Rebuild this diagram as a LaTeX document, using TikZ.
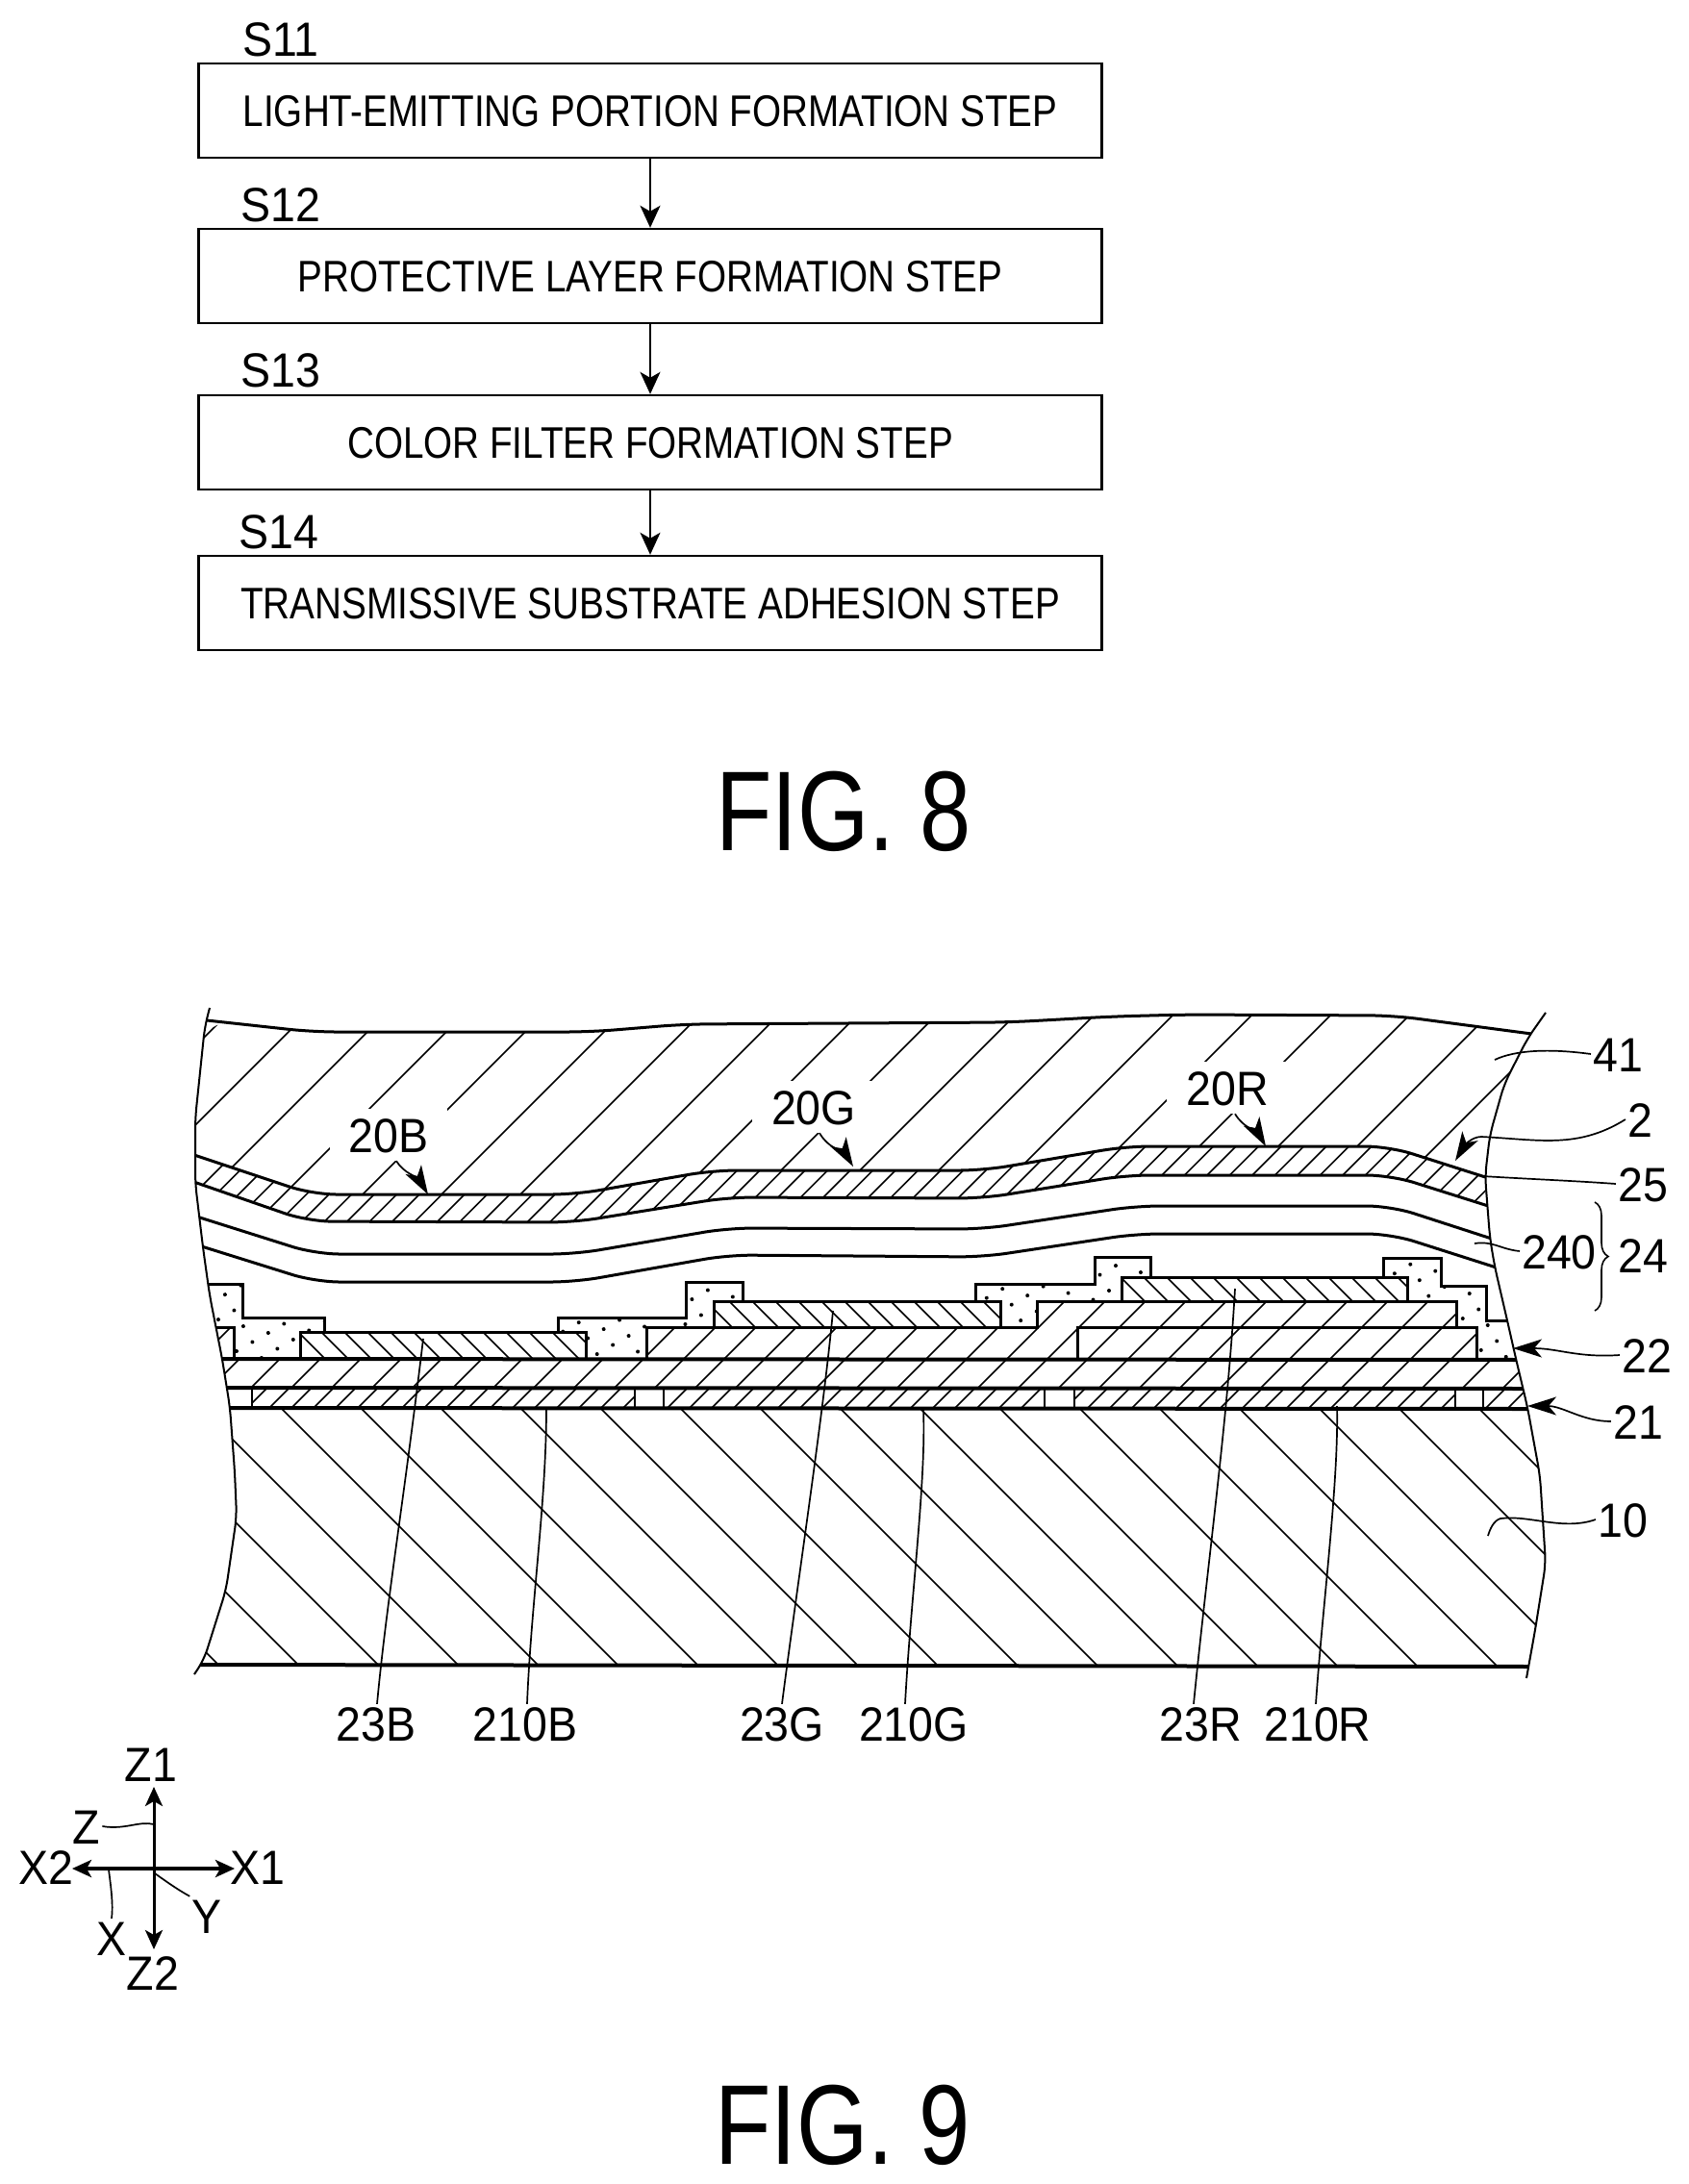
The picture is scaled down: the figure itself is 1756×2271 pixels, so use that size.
\documentclass[tikz,border=0pt]{standalone}
\usepackage{fontspec}
\setmainfont[FakeStretch=0.93]{Liberation Sans}
\newfontfamily\boxfont[FakeStretch=0.84]{Liberation Sans}
\newfontfamily\figfont[FakeStretch=0.81]{Liberation Sans}
\usetikzlibrary{arrows.meta,patterns.meta,decorations.pathreplacing}

\begin{document}
\begin{tikzpicture}[x=1pt,y=-1pt]
    \newcommand{\boxX}[0]{676}
    % layer outlines, left to right
    \newcommand{\lineTop}[0]{(215,1061) -- (325,1073) -- (614,1073) -- (711,1065) -- (1048,1063) -- (1156,1057) -- (1233,1055) -- (1449,1056) -- (1600,1076)}
    \newcommand{\lineUpper}[0]{(190,1197) -- (325,1242) -- (598,1242) -- (741,1217) -- (1022,1217) -- (1171,1192) -- (1444,1192) -- (1560,1229)}
    \newcommand{\lineLower}[0]{(190,1225) -- (320,1270) -- (596,1271) -- (757,1245) -- (1022,1246) -- (1171,1222) -- (1446,1222) -- (1560,1258)}
    \newcommand{\lineThird}[0]{(195,1262) -- (328,1304) -- (598,1304) -- (757,1277) -- (1022,1278) -- (1181,1254) -- (1446,1254) -- (1560,1291)}
    \newcommand{\lineFourth}[0]{(200,1293) -- (328,1333) -- (598,1333) -- (757,1305) -- (1022,1307) -- (1181,1283) -- (1446,1283) -- (1565,1321)}
    \newcommand{\edgeLeft}[0]{(218,1048) -- (213,1067) -- (203,1163) -- (203,1230) -- (211,1297) -- (218,1347) -- (231,1413) -- (239,1463) -- (244,1530) -- (246,1577) -- (235,1653) -- (212,1726) -- (202,1741)}
    \newcommand{\edgeRight}[0]{(1587,1745) -- (1596,1695) -- (1607,1626) -- (1601,1534) -- (1588,1463) -- (1577,1417) -- (1567,1373) -- (1554,1317) -- (1549,1287) -- (1544,1223) -- (1549,1180) -- (1564,1127) -- (1588,1080) -- (1607,1053)}
    \newcommand{\neHatch}[3]{\foreach \x in {#1,#2,...,#3} \draw[hatchline] (\x,1400) ++(400,-400) -- ++(-600,600);}
    \newcommand{\seHatch}[3]{\foreach \x in {#1,#2,...,#3} \draw[hatchline] (\x,1400) ++(-100,-100) -- ++(500,500);}

    \tikzstyle{stepbox}=[
      rectangle,
      draw=black,
      line width=2.4pt,
      anchor=center,
      minimum width=939pt,
      minimum height=98pt,
      inner sep=0pt,
      font=\boxfont\fontsize{46}{50}\selectfont,
      text height=33pt,
      text depth=0pt,
    ]
    \tikzstyle{steplabel}=[
      inner sep=2pt,
      font=\fontsize{50}{52}\selectfont,
      text height=36pt,
      text depth=0pt,
    ]
    \tikzstyle{reflabel}=[
      inner sep=2pt,
      font=\fontsize{50}{52}\selectfont,
      text height=36pt,
      text depth=0pt,
    ]
    \tikzstyle{onhatch}=[reflabel,fill=white,inner xsep=20pt,inner ysep=9pt]
    \tikzstyle{figlabel}=[
      inner sep=0pt,
      font=\figfont\fontsize{118}{120}\selectfont,
      text height=85pt,
      text depth=0pt,
    ]
    \tikzstyle{dedge}=[line width=1.8pt,-{Stealth[length=23pt,width=21pt,inset=6pt]},draw=black]
    \tikzstyle{axishead}=[{Stealth[length=20pt,width=18pt,inset=5pt]}-{Stealth[length=20pt,width=18pt,inset=5pt]},draw=black]
    \tikzstyle{leader}=[line width=1.7pt,draw=black]
    \tikzstyle{leadarrow}=[leader,-{Stealth[length=30pt,width=19pt,inset=8pt]}]
    \tikzstyle{hatchline}=[line width=1.7pt,draw=black]
    \tikzstyle{layerline}=[line width=3pt,draw=black,rounded corners=25pt]
    \tikzstyle{wallline}=[line width=3pt,draw=black]
    \tikzstyle{edgeline}=[line width=2pt,draw=black,rounded corners=12pt]

    \useasboundingbox (0,0) rectangle (1756,2271);

    % FIG. 8
    \node[steplabel] (s11) at (292,40) {S11};
    \node[steplabel] (s12) at (292,212) {S12};
    \node[steplabel] (s13) at (292,384) {S13};
    \node[steplabel] (s14) at (290,552) {S14};

    \node[stepbox] (b1) at (\boxX,115) {LIGHT-EMITTING PORTION FORMATION STEP};
    \node[stepbox] (b2) at (\boxX,287) {PROTECTIVE LAYER FORMATION STEP};
    \node[stepbox] (b3) at (\boxX,460) {COLOR FILTER FORMATION STEP};
    \node[stepbox] (b4) at (\boxX,627) {TRANSMISSIVE SUBSTRATE ADHESION STEP};

    \draw[dedge] (b1)--(b2);
    \draw[dedge] (b2)--(b3);
    \draw[dedge] (b3)--(b4);

    \node[figlabel] (fig8) at (877,842) {FIG. 8};

    % FIG. 9, cross section
    \begin{scope}
      \clip \edgeLeft -- \edgeRight -- cycle;

      % transmissive substrate
      \begin{scope}
        \clip[rounded corners=25pt] \lineTop -- (1700,1500) -- (100,1500) -- cycle;
        \clip[rounded corners=25pt] \lineUpper -- (1700,900) -- (100,900) -- cycle;
        \neHatch{-109}{-27}{1500}
      \end{scope}
      \begin{scope}
        \clip[rounded corners=25pt] \lineUpper -- (1700,1500) -- (100,1500) -- cycle;
        \clip[rounded corners=25pt] \lineLower -- (1700,900) -- (100,900) -- cycle;
        \neHatch{43}{66.5}{1600}
      \end{scope}
      \draw[layerline] \lineTop;
      \draw[layerline] \lineUpper;
      \draw[layerline] \lineLower;
      \draw[layerline] \lineThird;
      \draw[layerline] \lineFourth;

      % bank
      \draw[wallline,pattern={Dots[distance=19pt,radius=2pt,angle=30]}] (200,1335) -- (252,1335) -- (252,1370) -- (337,1370) -- (337,1385) -- (580,1385) -- (580,1370) -- (713,1370) -- (713,1333) -- (772,1333) -- (772,1353) -- (1014,1353) -- (1014,1335) -- (1138,1335) -- (1138,1307) -- (1196,1307) -- (1196,1328) -- (1438,1328) -- (1438,1308) -- (1498,1308) -- (1498,1337) -- (1545,1337) -- (1545,1373) -- (1600,1373) -- (1600,1413) -- (200,1413) -- cycle;

      % spacer under the electrodes
      \begin{scope}
        \fill[white] (200,1380) rectangle (243,1413);
        \clip (200,1380) rectangle (243,1413);
        \neHatch{178}{220}{1720}
      \end{scope}
      \draw[wallline] (200,1380) -- (243,1380) -- (243,1413);
      \begin{scope}
        \fill[white] (672,1413) -- (672,1380) -- (1078,1380) -- (1078,1353) -- (1514,1353) -- (1514,1380) -- (1535,1380) -- (1535,1413) -- cycle;
        \clip (672,1413) -- (672,1380) -- (1078,1380) -- (1078,1353) -- (1514,1353) -- (1514,1380) -- (1535,1380) -- (1535,1413) -- cycle;
        \neHatch{178}{220}{1720}
      \end{scope}
      \draw[wallline] (672,1413) -- (672,1380) -- (1078,1380) -- (1078,1353) -- (1514,1353) -- (1514,1380) -- (1535,1380) -- (1535,1413);
      \draw[wallline] (1120,1413) -- (1120,1380) -- (1514,1380);

      % light-emitting electrodes
      \foreach \xa/\ya/\xb/\yb in {312/1385/609/1413,742/1353/1040/1380,1166/1328/1463/1353} {
        \begin{scope}
          \fill[white] (\xa,\ya) rectangle (\xb,\yb);
          \clip (\xa,\ya) rectangle (\xb,\yb);
          \seHatch{181}{205}{1600}
        \end{scope}
        \draw[wallline] (\xa,\ya) rectangle (\xb,\yb);
      }

      % lower layers
      \begin{scope}
        \clip (150,1415) rectangle (1650,1444);
        \neHatch{178}{220}{1720}
      \end{scope}
      \begin{scope}
        \clip (150,1444) rectangle (1650,1464);
        \neHatch{183}{206}{1700}
      \end{scope}
      \foreach \xa/\xb in {200/262,660/690,1086/1117,1513/1542} {
        \draw[fill=white,line width=2pt] (\xa,1444) rectangle (\xb,1464);
      }
      \begin{scope}
        \clip (150,1464) rectangle (1650,1731);
        \seHatch{-104}{-21}{1600}
      \end{scope}
      \draw[line width=4pt] (200,1413) -- (1600,1414);
      \draw[line width=4pt] (200,1443) -- (1600,1444);
      \draw[line width=4pt] (200,1464) -- (1600,1465);
      \draw[line width=4pt] (200,1731) -- (1600,1733);
    \end{scope}
    \draw[edgeline] \edgeLeft;
    \draw[edgeline] \edgeRight;

    % reference numerals
    \node[onhatch] (l20b) at (404,1180) {20B};
    \node[onhatch] (l20g) at (846,1151) {20G};
    \node[onhatch] (l20r) at (1276,1131) {20R};
    \node[reflabel] (l41) at (1682,1096) {41};
    \node[reflabel] (l2) at (1705,1164) {2};
    \node[reflabel] (l25) at (1708,1231) {25};
    \node[reflabel] (l240) at (1621,1301) {240};
    \node[reflabel] (l24) at (1708,1305) {24};
    \node[reflabel] (l22) at (1712,1409) {22};
    \node[reflabel] (l21) at (1703,1478) {21};
    \node[reflabel] (l10) at (1687,1580) {10};
    \node[reflabel] (l23b) at (391,1792) {23B};
    \node[reflabel] (l210b) at (546,1792) {210B};
    \node[reflabel] (l23g) at (813,1792) {23G};
    \node[reflabel] (l210g) at (950,1792) {210G};
    \node[reflabel] (l23r) at (1248,1792) {23R};
    \node[reflabel] (l210r) at (1370,1792) {210R};

    \coordinate (t20b) at (445,1242);
    \coordinate (t20g) at (887,1213);
    \coordinate (t20r) at (1316,1192);
    \coordinate (t41) at (1554,1102);
    \coordinate (t2) at (1513,1207);
    \coordinate (t25) at (1541,1223);
    \coordinate (t240) at (1533,1293);
    \coordinate (t22) at (1573,1402);
    \coordinate (t21) at (1588,1462);
    \coordinate (t10) at (1547,1597);
    \coordinate (t23b) at (440,1392);
    \coordinate (t210b) at (568,1466);
    \coordinate (t23g) at (866,1363);
    \coordinate (t210g) at (960,1465);
    \coordinate (t23r) at (1284,1340);
    \coordinate (t210r) at (1390,1462);

    \draw[leadarrow] ([xshift=8pt]l20b.south) .. controls (420,1220) and (435,1225) .. (t20b);
    \draw[leadarrow] ([xshift=6pt]l20g.south) .. controls (862,1195) and (878,1198) .. (t20g);
    \draw[leadarrow] ([xshift=8pt]l20r.south) .. controls (1292,1172) and (1308,1178) .. (t20r);
    \draw[leader] (l41.west) .. controls (1610,1090) and (1575,1092) .. (t41);
    \draw[leadarrow] (l2.west) .. controls (1640,1195) and (1600,1185) .. (1540,1182) .. controls (1530,1182) and (1522,1192) .. (t2);
    \draw[leader] (l25.west) .. controls (1640,1228) and (1590,1226) .. (t25);
    \draw[leader] (l240.west) .. controls (1560,1299) and (1552,1290) .. (t240);
    \draw[decorate,decoration={brace,amplitude=14pt},line width=1.6pt] (1658,1250) -- (1658,1363);
    \draw[leadarrow] (l22.west) .. controls (1640,1412) and (1620,1402) .. (t22);
    \draw[leadarrow] (l21.west) .. controls (1645,1478) and (1625,1462) .. (t21);
    \draw[leader] (l10.west) .. controls (1625,1592) and (1590,1575) .. (1560,1579) .. controls (1553,1581) and (1549,1590) .. (t10);
    \draw[leader] ([xshift=1pt]l23b.north) .. controls (402,1665) and (420,1560) .. (t23b);
    \draw[leader] ([xshift=2pt]l210b.north) .. controls (552,1670) and (568,1560) .. (t210b);
    \draw[leader] (l23g.north) .. controls (830,1640) and (856,1470) .. (t23g);
    \draw[leader] ([xshift=-9pt]l210g.north) .. controls (947,1660) and (963,1540) .. (t210g);
    \draw[leader] ([xshift=-7pt]l23r.north) .. controls (1255,1630) and (1276,1480) .. (t23r);
    \draw[leader] ([xshift=-2pt]l210r.north) .. controls (1375,1670) and (1392,1540) .. (t210r);

    % axes
    \node[reflabel] (z1) at (157,1834) {Z1};
    \node[reflabel] (z2) at (159,2051) {Z2};
    \node[reflabel] (x1) at (268,1941) {X1};
    \node[reflabel] (x2) at (48,1941) {X2};
    \node[reflabel] (zz) at (90,1899) {Z};
    \node[reflabel] (xx) at (116,2015) {X};
    \node[reflabel] (yy) at (215,1992) {Y};
    \coordinate (ctop) at (160,1858);
    \coordinate (cbot) at (160,2027);
    \coordinate (cleft) at (75,1943);
    \coordinate (cright) at (244,1943);
    \coordinate (czz) at (160,1897);
    \coordinate (cxx) at (113,1944);
    \coordinate (cyy) at (161,1948);
    \draw[axishead,line width=3pt] (ctop)--(cbot);
    \draw[axishead,line width=4pt] (cleft)--(cright);
    \draw[leader] (zz.east) .. controls (130,1903) and (145,1893) .. (czz);
    \draw[leader] (xx.north) .. controls (118,1980) and (115,1960) .. (cxx);
    \draw[leader] (yy.north west) .. controls (185,1965) and (175,1958) .. (cyy);

    \node[figlabel] (fig9) at (876,2208) {FIG. 9};
  \end{tikzpicture}
\end{document}
